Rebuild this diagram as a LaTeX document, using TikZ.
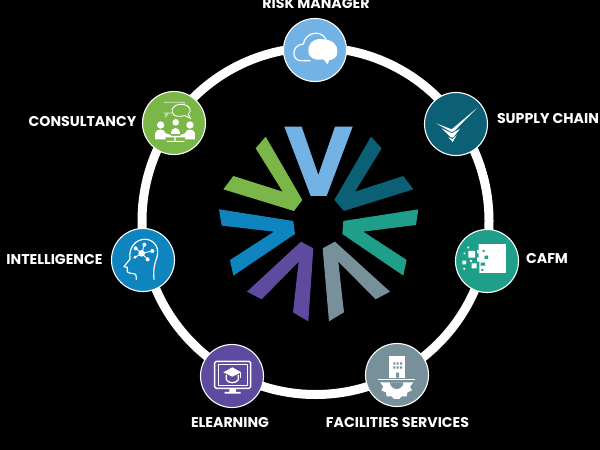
\documentclass[tikz,border=0pt]{standalone}
\usepackage{fontspec}
\setmainfont{Poppins}
\definecolor{cRisk}{HTML}{72B2E4}
\definecolor{cSupply}{HTML}{0B6075}
\definecolor{cCafm}{HTML}{1F9E89}
\definecolor{cFac}{HTML}{78909A}
\definecolor{cLearn}{HTML}{5E4A9E}
\definecolor{cIntel}{HTML}{0E85BF}
\definecolor{cCons}{HTML}{7AB648}
\tikzset{
  hub/.style={circle,draw=white,line width=1.1pt,minimum size=63bp,inner sep=0pt},
  lab/.style={text=white,font=\fontsize{14.2}{14.2}\selectfont\bfseries,inner sep=0pt,anchor=center},
  ico/.style={x=0.3333bp,y=-0.3333bp},
  wl/.style={draw=white,line width=1.2bp,fill=none,line join=round,line cap=round},
  wf/.style={fill=white,draw=none}
}
\begin{document}
\begin{tikzpicture}[x=1bp,y=-1bp]
\useasboundingbox (0,0) rectangle (600,450);
\fill[black] (0,0) rectangle (600,450);
\coordinate (ringc) at (315.5,221);
\draw[white,line width=9bp] (ringc) circle [radius=173.5bp];
% star
\begin{scope}[shift={(200,110)},x=0.3333bp,y=-0.3333bp]
\fill[cRisk] (253,50)--(305,50)--(355,195)--(405,50)--(458,50)--(380,258)--(332,258)--cycle;
\fill[cSupply] (513,80)--(545,115)--(465,245)--(610,198)--(640,238)--(432,303)--(403,270)--cycle;
\fill[cCafm] (655,298)--(648,345)--(490,365)--(620,450)--(610,497)--(427,372)--(430,333)--cycle;
\fill[cFac] (570,545)--(527,568)--(415,455)--(432,607)--(387,634)--(368,415)--(405,395)--cycle;
\fill[cLearn] (325,634)--(279,607)--(296,455)--(185,568)--(141,545)--(303,395)--(340,415)--cycle;
\fill[cIntel] (100,497)--(90,450)--(222,365)--(65,347)--(57,298)--(280,333)--(285,372)--cycle;
\fill[cCons] (70,238)--(100,198)--(248,245)--(167,115)--(197,80)--(307,270)--(282,303)--cycle;
\end{scope}
% hubs
\node[hub,fill=cRisk] (risk) at (315,50) {};
\node[hub,fill=cSupply] (supply) at (456,124) {};
\node[hub,fill=cCafm] (cafm) at (487,261) {};
\node[hub,fill=cFac] (fac) at (397,375) {};
\node[hub,fill=cLearn] (learn) at (232,376) {};
\node[hub,fill=cIntel] (intel) at (143,260) {};
\node[hub,fill=cCons] (cons) at (174,123) {};
% labels
\node[lab] (tRisk) at (316,3.5) {RISK MANAGER};
\node[lab] (tSupply) at (548,119) {SUPPLY CHAIN};
\node[lab] (tCafm) at (547,259) {CAFM};
\node[lab] (tFac) at (397.5,423) {FACILITIES SERVICES};
\node[lab] (tLearn) at (230,423) {ELEARNING};
\node[lab] (tIntel) at (54.5,260) {INTELLIGENCE};
\node[lab] (tCons) at (82.5,122) {CONSULTANCY};
% risk icon
\begin{scope}[shift={(260,0)},ico]
\draw[wl] (150,182) -- (122,182) .. controls (95,182) and (92,135) .. (130,132) .. controls (135,100) and (180,85) .. (198,118);
\fill[white] (145,152) .. controls (145,125) and (170,112) .. (190,118) .. controls (215,118) and (235,135) .. (232,155) .. controls (232,172) and (220,180) .. (208,180) -- (203,193) -- (190,178) .. controls (165,182) and (145,175) .. (145,152) -- cycle;
\end{scope}
% supply icon
\begin{scope}[shift={(410,80)},ico]
\fill[white] (78,130)--(125,148)--(200,85)--(132,154)--(124,156)--cycle;
\fill[white] (95,145)--(126,160)--(150,146)--(130,172)--(122,172)--cycle;
\fill[white] (115,172)--(128,177)--(140,165)--(128,186)--cycle;
\end{scope}
% cafm icon
\begin{scope}[shift={(440,220)},ico]
\fill[white] (110,72) rectangle (198,160);
\fill[cCafm] (110,72) rectangle (116,90) (110,125) rectangle (118,160) (128,90) rectangle (134,96) (134,107) rectangle (144,117) (122,128) rectangle (135,137) (124,147) rectangle (130,153) (110,100) rectangle (116,112);
\fill[white] (85,93) rectangle (105,113) (67,122) rectangle (78,133) (95,130) rectangle (110,145) (71,98) rectangle (76,103) (82,80) rectangle (87,85) (70,144) rectangle (75,149) (90,120) rectangle (96,126);
\end{scope}
% facilities icon
\begin{scope}[shift={(350,335)},ico]
\fill[white] (118,62) rectangle (165,128);
\fill[cFac] (130,82) rectangle (136,89) (140,82) rectangle (146,89) (150,82) rectangle (156,89)
 (130,94) rectangle (136,101) (140,94) rectangle (146,101) (150,94) rectangle (156,101)
 (138,113) rectangle (147,128);
\fill[white] (85,132) rectangle (196,135);
\fill[white] (90,142) -- (190,142) -- (180,155) -- (186,166) -- (172,172) -- (170,184) -- (155,184) -- (148,192) -- (132,192) -- (125,184) -- (110,184) -- (108,172) -- (94,166) -- (100,155) -- cycle;
\fill[cFac] (120,142) arc [start angle=180,end angle=360,x radius=20,y radius=-20] -- cycle;
\end{scope}
% elearning icon
\begin{scope}[shift={(190,335)},ico]
\draw[white,line width=1.4bp,rounded corners=1.5bp] (74,79) rectangle (182,160);
\draw[white,line width=0.8bp] (84,89) rectangle (172,150);
\fill[white] (118,160) rectangle (138,172) (104,171) rectangle (152,176);
\fill[white] (100,112) -- (127,97) -- (154,112) -- (127,125) -- cycle;
\draw[white,line width=1.3bp,fill=none] (109,120) -- (109,134) .. controls (115,146) and (139,146) .. (145,134) -- (145,120);
\draw[white,line width=0.7bp] (152,113) -- (152,130);
\end{scope}
% intelligence icon
\begin{scope}[shift={(100,220)},ico]
\draw[wl] (90,117) .. controls (85,80) and (110,55) .. (140,58) .. controls (165,62) and (180,85) .. (170,115) .. controls (162,135) and (160,150) .. (162,178);
\draw[wl] (90,117) -- (72,140) -- (82,142) -- (82,155) .. controls (84,162) and (105,158) .. (108,165) -- (109,178);
\draw[white,line width=0.9bp] (125,100) -- (133,74) (125,100) -- (107,85) (125,100) -- (157,93) (125,100) -- (143,118) (125,100) -- (105,112);
\fill[white] (125,100) circle [radius=10] (133,74) circle [radius=6] (107,85) circle [radius=6] (157,93) circle [radius=6] (143,118) circle [radius=6] (105,112) circle [radius=5];
\end{scope}
% consultancy icon
\begin{scope}[shift={(135,85)},ico]
\draw[white,opacity=.75,line width=0.7bp] (86,52) -- (148,52) -- (148,62) (112,84) -- (100,84) -- (92,96) -- (92,84) -- (86,84) -- cycle;
\draw[white,line width=0.9bp] (112,82) .. controls (108,62) and (130,56) .. (142,58) .. controls (165,60) and (172,78) .. (160,88) -- (166,100) -- (150,92) .. controls (130,96) and (115,95) .. (112,82) -- cycle;
\fill[white] (77,120) circle [radius=11] (122,112) circle [radius=10] (165,120) circle [radius=11];
\fill[white] (60,163) -- (60,145) .. controls (62,130) and (90,130) .. (92,145) -- (108,150) -- (108,156) -- (92,156) -- (92,163) -- cycle;
\fill[white] (108,146) .. controls (108,122) and (136,122) .. (136,146) -- cycle;
\fill[white] (180,163) -- (180,145) .. controls (178,130) and (152,130) .. (150,145) -- (136,150) -- (136,156) -- (150,156) -- (150,163) -- cycle;
\fill[white] (95,153) rectangle (148,157) (118,157) rectangle (122,168) (96,168) rectangle (148,171);
\end{scope}
\end{tikzpicture}
\end{document}
